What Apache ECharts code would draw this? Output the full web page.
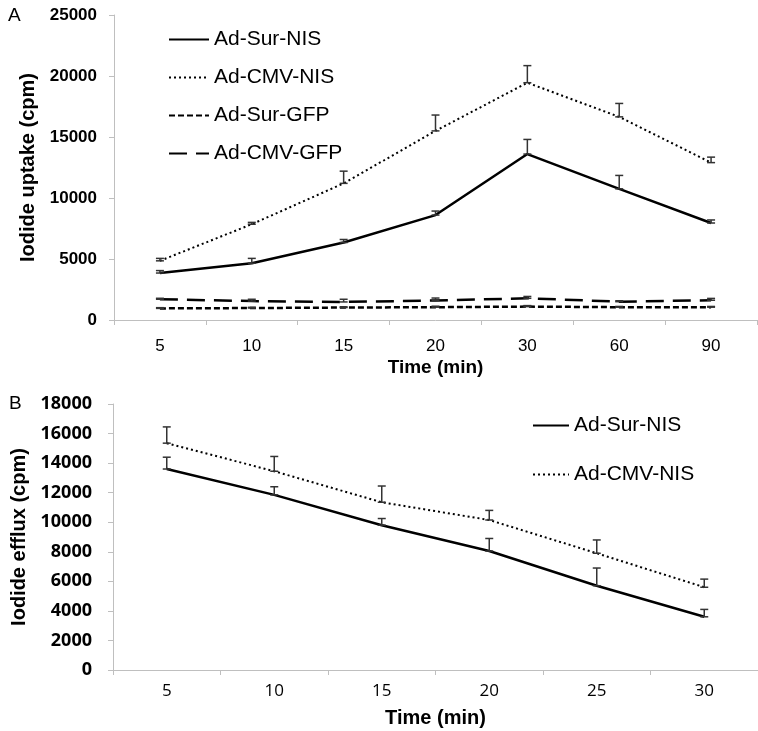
<!DOCTYPE html>
<html>
<head>
<meta charset="utf-8">
<script src="https://cdn.jsdelivr.net/npm/echarts@6/dist/echarts.min.js"></script>
<style>
  html, body { margin: 0; padding: 0; background: #fff; }
  #chart { width: 758px; height: 731px; }
</style>
</head>
<body>
<div id="chart"></div>
<script>
// Panel A: iodide uptake
const timesA = ["5", "10", "15", "20", "30", "60", "90"];
const surNisA = [3850, 4650, 6350, 8600, 13600, 10750, 7950];
const surNisAErr = [200, 400, 250, 330, 1200, 1100, 250];
const cmvNisA = [4850, 7850, 11200, 15500, 19450, 16650, 12900];
const cmvNisAErr = [200, 150, 1000, 1300, 1400, 1100, 450];
const surGfpA = [950, 980, 1020, 1050, 1100, 1050, 1050];
const surGfpAErr = [60, 60, 60, 80, 80, 60, 60];
const cmvGfpA = [1700, 1550, 1480, 1600, 1780, 1500, 1620];
const cmvGfpAErr = [80, 150, 220, 200, 150, 80, 150];
const ticksA = [0, 5000, 10000, 15000, 20000, 25000];

// Panel B: iodide efflux
const timesB = ["5", "10", "15", "20", "25", "30"];
const surNisB = [13600, 11850, 9800, 8050, 5700, 3600];
const surNisBErr = [800, 550, 450, 850, 1200, 500];
const cmvNisB = [15350, 13450, 11350, 10150, 7900, 5600];
const cmvNisBErr = [1100, 1000, 1100, 650, 900, 550];
const ticksB = [0, 2000, 4000, 6000, 8000, 10000, 12000, 14000, 16000, 18000];

const chart = echarts.init(document.getElementById("chart"));

const axisGrey = "#bfbfbf";
const arial = "'Liberation Sans', Arial, sans-serif";
const calibri = "'Open Sans', 'Liberation Sans', sans-serif";

function errBars(values, errs, xIdx, yIdx) {
  return {
    type: "custom",
    xAxisIndex: xIdx,
    yAxisIndex: yIdx,
    silent: true,
    z: 5,
    data: values.map((v, i) => [i, v, v + errs[i]]),
    renderItem: function (params, api) {
      const lo = api.coord([api.value(0), api.value(1)]);
      const hi = api.coord([api.value(0), api.value(2)]);
      const w = 4;
      const st = { stroke: "#333", lineWidth: 1.5 };
      return {
        type: "group",
        children: [
          { type: "line", shape: { x1: lo[0], y1: lo[1], x2: hi[0], y2: hi[1] }, style: st },
          { type: "line", shape: { x1: hi[0] - w, y1: hi[1], x2: hi[0] + w, y2: hi[1] }, style: st },
          { type: "line", shape: { x1: lo[0] - w, y1: lo[1], x2: lo[0] + w, y2: lo[1] }, style: st },
        ],
      };
    },
  };
}

function lineSeries(name, data, xIdx, yIdx, type, width) {
  return {
    name: name,
    type: "line",
    xAxisIndex: xIdx,
    yAxisIndex: yIdx,
    data: data,
    symbol: "none",
    showSymbol: false,
    z: 4,
    lineStyle: { color: "#000", width: width, type: type },
    itemStyle: { color: "#000" },
  };
}

const plain = (v) => String(v);

const options = {
  animation: false,
  backgroundColor: "#fff",
  grid: [
    { left: 114, right: 1, top: 15, height: 305 },
    { left: 113, right: -12, top: 404, height: 266 },
  ],
  legend: [
    {
      data: ["Ad-Sur-NIS", "Ad-CMV-NIS", "Ad-Sur-GFP", "Ad-CMV-GFP"],
      orient: "vertical",
      left: 163,
      top: 24,
      itemWidth: 40,
      itemHeight: 14,
      itemGap: 17,
      itemStyle: { opacity: 0 },
      textStyle: { fontFamily: arial, fontSize: 21, color: "#000" },
    },
    {
      data: ["Ad-Sur-NIS B", "Ad-CMV-NIS B"],
      formatter: (n) => n.replace(" B", ""),
      orient: "vertical",
      left: 527,
      top: 410,
      itemWidth: 36,
      itemHeight: 14,
      itemGap: 28,
      itemStyle: { opacity: 0 },
      textStyle: { fontFamily: arial, fontSize: 21, color: "#000" },
    },
  ],
  xAxis: [
    {
      type: "category",
      gridIndex: 0,
      data: timesA,
      boundaryGap: true,
      axisLine: { lineStyle: { color: axisGrey, width: 1 } },
      axisTick: { show: true, length: 5, lineStyle: { color: axisGrey } },
      axisLabel: { color: "#000", fontFamily: arial, fontSize: 17, margin: 18 },
      name: "Time (min)",
      nameLocation: "middle",
      nameGap: 38,
      nameTextStyle: { color: "#000", fontFamily: arial, fontSize: 19, fontWeight: "bold" },
      splitLine: { show: false },
    },
    {
      type: "category",
      gridIndex: 1,
      data: timesB,
      boundaryGap: true,
      axisLine: { lineStyle: { color: axisGrey, width: 1 } },
      axisTick: { show: true, length: 5, lineStyle: { color: axisGrey } },
      axisLabel: { color: "#000", fontFamily: calibri, fontSize: 17, margin: 13 },
      name: "Time (min)",
      nameLocation: "middle",
      nameGap: 38,
      nameTextStyle: { color: "#000", fontFamily: arial, fontSize: 20, fontWeight: "bold" },
      splitLine: { show: false },
    },
  ],
  yAxis: [
    {
      type: "value",
      gridIndex: 0,
      min: ticksA[0],
      max: ticksA[ticksA.length - 1],
      interval: ticksA[1] - ticksA[0],
      axisLine: { show: true, lineStyle: { color: axisGrey, width: 1 } },
      axisTick: { show: true, length: 5, lineStyle: { color: axisGrey } },
      axisLabel: { color: "#000", fontFamily: arial, fontSize: 17, fontWeight: "bold", margin: 17, formatter: plain },
      splitLine: { show: false },
      name: "Iodide uptake (cpm)",
      nameLocation: "middle",
      nameGap: 67,
      nameTextStyle: { color: "#000", fontFamily: arial, fontSize: 20, fontWeight: "bold" },
    },
    {
      type: "value",
      gridIndex: 1,
      min: ticksB[0],
      max: ticksB[ticksB.length - 1],
      interval: ticksB[1] - ticksB[0],
      axisLine: { show: true, lineStyle: { color: axisGrey, width: 1 } },
      axisTick: { show: true, length: 5, lineStyle: { color: axisGrey } },
      axisLabel: { color: "#000", fontFamily: calibri, fontSize: 18, fontWeight: "bold", margin: 21, formatter: plain },
      splitLine: { show: false },
      name: "Iodide efflux (cpm)",
      nameLocation: "middle",
      nameGap: 76,
      nameTextStyle: { color: "#000", fontFamily: arial, fontSize: 20, fontWeight: "bold" },
    },
  ],
  graphic: [
    { type: "text", left: 8, top: 6, style: { text: "A", font: "19px 'Liberation Sans', Arial", fill: "#000" } },
    { type: "text", left: 9, top: 394, style: { text: "B", font: "19px 'Liberation Sans', Arial", fill: "#000" } },
  ],
  series: [
    lineSeries("Ad-Sur-NIS", surNisA, 0, 0, "solid", 2.5),
    lineSeries("Ad-CMV-NIS", cmvNisA, 0, 0, [2, 3], 2),
    lineSeries("Ad-Sur-GFP", surGfpA, 0, 0, [6, 3], 2.5),
    lineSeries("Ad-CMV-GFP", cmvGfpA, 0, 0, [18, 9], 2.5),
    errBars(surNisA, surNisAErr, 0, 0),
    errBars(cmvNisA, cmvNisAErr, 0, 0),
    errBars(surGfpA, surGfpAErr, 0, 0),
    errBars(cmvGfpA, cmvGfpAErr, 0, 0),
    lineSeries("Ad-Sur-NIS B", surNisB, 1, 1, "solid", 2.5),
    lineSeries("Ad-CMV-NIS B", cmvNisB, 1, 1, [2, 3], 2),
    errBars(surNisB, surNisBErr, 1, 1),
    errBars(cmvNisB, cmvNisBErr, 1, 1),
  ],
};

chart.setOption(options);
</script>
</body>
</html>
